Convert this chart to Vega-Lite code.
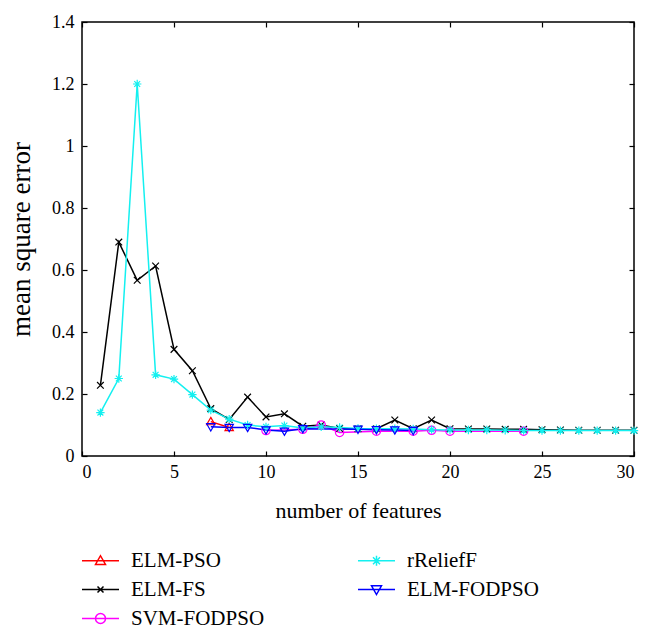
{
  "$schema": "https://vega.github.io/schema/vega-lite/v6.json",
  "width": 552,
  "height": 434,
  "autosize": {"type": "none"},
  "padding": {"left": 82, "top": 22, "right": 23, "bottom": 178},
  "background": "white",
  "config": {
    "font": "Liberation Serif",
    "view": {"stroke": "black", "strokeWidth": 1.5},
    "axis": {
      "labelFont": "Liberation Serif",
      "labelFontSize": 18,
      "labelColor": "black",
      "titleFont": "Liberation Serif",
      "titleFontSize": 22,
      "titleFontWeight": "normal",
      "titleColor": "black",
      "grid": false,
      "domain": false,
      "tickColor": "black",
      "tickSize": -5,
      "tickWidth": 1.2
    },
    "legend": {
      "labelFont": "Liberation Serif",
      "labelFontSize": 21,
      "labelColor": "black",
      "symbolStrokeWidth": 1.5,
      "padding": 0
    }
  },
  "data": {
    "values": [
      {"m": "ELM-PSO", "x": 7, "y": 0.111},
      {"m": "ELM-PSO", "x": 8, "y": 0.092},
      {"m": "ELM-FS", "x": 1, "y": 0.228},
      {"m": "ELM-FS", "x": 2, "y": 0.69},
      {"m": "ELM-FS", "x": 3, "y": 0.567},
      {"m": "ELM-FS", "x": 4, "y": 0.613},
      {"m": "ELM-FS", "x": 5, "y": 0.344},
      {"m": "ELM-FS", "x": 6, "y": 0.275},
      {"m": "ELM-FS", "x": 7, "y": 0.153},
      {"m": "ELM-FS", "x": 8, "y": 0.118},
      {"m": "ELM-FS", "x": 9, "y": 0.19},
      {"m": "ELM-FS", "x": 10, "y": 0.126},
      {"m": "ELM-FS", "x": 11, "y": 0.136},
      {"m": "ELM-FS", "x": 12, "y": 0.096},
      {"m": "ELM-FS", "x": 13, "y": 0.1},
      {"m": "ELM-FS", "x": 14, "y": 0.089},
      {"m": "ELM-FS", "x": 15, "y": 0.088},
      {"m": "ELM-FS", "x": 16, "y": 0.088},
      {"m": "ELM-FS", "x": 17, "y": 0.116},
      {"m": "ELM-FS", "x": 18, "y": 0.088},
      {"m": "ELM-FS", "x": 19, "y": 0.116},
      {"m": "ELM-FS", "x": 20, "y": 0.088},
      {"m": "ELM-FS", "x": 21, "y": 0.087},
      {"m": "ELM-FS", "x": 22, "y": 0.087},
      {"m": "ELM-FS", "x": 23, "y": 0.086},
      {"m": "ELM-FS", "x": 24, "y": 0.086},
      {"m": "ELM-FS", "x": 25, "y": 0.085},
      {"m": "ELM-FS", "x": 26, "y": 0.084},
      {"m": "ELM-FS", "x": 27, "y": 0.083},
      {"m": "ELM-FS", "x": 28, "y": 0.083},
      {"m": "ELM-FS", "x": 29, "y": 0.083},
      {"m": "ELM-FS", "x": 30, "y": 0.083},
      {"m": "SVM-FODPSO", "x": 10, "y": 0.082},
      {"m": "SVM-FODPSO", "x": 12, "y": 0.086},
      {"m": "SVM-FODPSO", "x": 13, "y": 0.1},
      {"m": "SVM-FODPSO", "x": 14, "y": 0.076},
      {"m": "SVM-FODPSO", "x": 16, "y": 0.08},
      {"m": "SVM-FODPSO", "x": 18, "y": 0.08},
      {"m": "SVM-FODPSO", "x": 19, "y": 0.083},
      {"m": "SVM-FODPSO", "x": 20, "y": 0.08},
      {"m": "SVM-FODPSO", "x": 24, "y": 0.08},
      {"m": "rReliefF", "x": 1, "y": 0.14},
      {"m": "rReliefF", "x": 2, "y": 0.25},
      {"m": "rReliefF", "x": 3, "y": 1.2},
      {"m": "rReliefF", "x": 4, "y": 0.262},
      {"m": "rReliefF", "x": 5, "y": 0.248},
      {"m": "rReliefF", "x": 6, "y": 0.198},
      {"m": "rReliefF", "x": 7, "y": 0.148},
      {"m": "rReliefF", "x": 8, "y": 0.119},
      {"m": "rReliefF", "x": 9, "y": 0.1},
      {"m": "rReliefF", "x": 10, "y": 0.094},
      {"m": "rReliefF", "x": 11, "y": 0.098},
      {"m": "rReliefF", "x": 12, "y": 0.09},
      {"m": "rReliefF", "x": 13, "y": 0.094},
      {"m": "rReliefF", "x": 14, "y": 0.092},
      {"m": "rReliefF", "x": 15, "y": 0.089},
      {"m": "rReliefF", "x": 16, "y": 0.088},
      {"m": "rReliefF", "x": 17, "y": 0.088},
      {"m": "rReliefF", "x": 18, "y": 0.087},
      {"m": "rReliefF", "x": 19, "y": 0.085},
      {"m": "rReliefF", "x": 20, "y": 0.084},
      {"m": "rReliefF", "x": 21, "y": 0.084},
      {"m": "rReliefF", "x": 22, "y": 0.084},
      {"m": "rReliefF", "x": 23, "y": 0.083},
      {"m": "rReliefF", "x": 24, "y": 0.082},
      {"m": "rReliefF", "x": 25, "y": 0.082},
      {"m": "rReliefF", "x": 26, "y": 0.082},
      {"m": "rReliefF", "x": 27, "y": 0.082},
      {"m": "rReliefF", "x": 28, "y": 0.082},
      {"m": "rReliefF", "x": 29, "y": 0.082},
      {"m": "rReliefF", "x": 30, "y": 0.082},
      {"m": "ELM-FODPSO", "x": 7, "y": 0.094},
      {"m": "ELM-FODPSO", "x": 8, "y": 0.092},
      {"m": "ELM-FODPSO", "x": 9, "y": 0.092},
      {"m": "ELM-FODPSO", "x": 10, "y": 0.084},
      {"m": "ELM-FODPSO", "x": 11, "y": 0.08},
      {"m": "ELM-FODPSO", "x": 12, "y": 0.088},
      {"m": "ELM-FODPSO", "x": 15, "y": 0.086},
      {"m": "ELM-FODPSO", "x": 16, "y": 0.085},
      {"m": "ELM-FODPSO", "x": 17, "y": 0.084},
      {"m": "ELM-FODPSO", "x": 18, "y": 0.082}
    ]
  },
  "layer": [
    {
      "mark": {"type": "line", "strokeWidth": 1.5},
      "encoding": {
        "x": {
          "field": "x", "type": "quantitative",
          "scale": {"domain": [0, 30], "nice": false},
          "axis": {"orient": "bottom", "values": [0, 5, 10, 15, 20, 25, 30], "title": "number of features", "labelPadding": 12, "titlePadding": 19}
        },
        "y": {
          "field": "y", "type": "quantitative",
          "scale": {"domain": [0, 1.4], "nice": false},
          "axis": {"orient": "left", "values": [0, 0.2, 0.4, 0.6, 0.8, 1, 1.2, 1.4], "format": ".1~f", "title": "mean square error", "labelPadding": 13, "titlePadding": 16, "titleFontSize": 27}
        },
        "color": {
          "field": "m", "type": "nominal",
          "scale": {"domain": ["ELM-PSO", "ELM-FS", "SVM-FODPSO", "rReliefF", "ELM-FODPSO"], "range": ["#ff0000", "#000000", "#ff00ff", "#14f0f0", "#0000ff"]},
          "legend": null
        }
      }
    },
    {
      "mark": {"type": "point", "filled": false, "size": 70, "strokeWidth": 1.2, "opacity": 1},
      "encoding": {
        "x": {"field": "x", "type": "quantitative", "axis": null},
        "y": {"field": "y", "type": "quantitative", "axis": null},
        "color": {
          "field": "m", "type": "nominal",
          "scale": {"domain": ["ELM-PSO", "ELM-FS", "SVM-FODPSO", "rReliefF", "ELM-FODPSO"], "range": ["#ff0000", "#000000", "#ff00ff", "#14f0f0", "#0000ff"]},
          "legend": null
        },
        "shape": {
          "field": "m", "type": "nominal",
          "scale": {
            "domain": ["ELM-PSO", "ELM-FS", "SVM-FODPSO", "rReliefF", "ELM-FODPSO"],
            "range": [
              "M0,-1L1,0.75L-1,0.75Z",
              "M-0.8,-0.8L0.8,0.8M-0.8,0.8L0.8,-0.8",
              "circle",
              "M-1,0L1,0M0,-1L0,1M-0.7,-0.7L0.7,0.7M-0.7,0.7L0.7,-0.7",
              "M0,1L1,-0.75L-1,-0.75Z"
            ]
          },
          "legend": null
        }
      }
    },
    {
      "transform": [{"filter": "datum.x < 0"}],
      "mark": {"type": "point", "filled": false, "size": 100, "strokeWidth": 1.5, "opacity": 1},
      "encoding": {
        "x": {"field": "x", "type": "quantitative", "axis": {"orient": "top", "values": [0, 5, 10, 15, 20, 25, 30], "labels": false, "title": null}},
        "y": {"field": "y", "type": "quantitative", "axis": {"orient": "right", "values": [0, 0.2, 0.4, 0.6, 0.8, 1, 1.2, 1.4], "labels": false, "title": null}},
        "stroke": {
          "field": "m", "type": "nominal",
          "scale": {"domain": ["ELM-PSO", "ELM-FS", "SVM-FODPSO", "rReliefF", "ELM-FODPSO"], "range": ["#ff0000", "#000000", "#ff00ff", "#14f0f0", "#0000ff"]},
          "legend": {"orient": "none", "legendX": 8, "legendY": 528, "title": null, "columns": 2, "columnPadding": 90, "rowPadding": 7, "labelOffset": 20, "symbolSize": 100}
        },
        "shape": {
          "field": "m", "type": "nominal",
          "scale": {
            "domain": ["ELM-PSO", "ELM-FS", "SVM-FODPSO", "rReliefF", "ELM-FODPSO"],
            "range": [
              "M-3.7,0L3.7,0M0,-1L1,0.75L-1,0.75Z",
              "M-3.7,0L3.7,0M-0.6,-0.6L0.6,0.6M-0.6,0.6L0.6,-0.6",
              "M-3.7,0L3.7,0M1,0A1,1 0 1,1 -1,0A1,1 0 1,1 1,0",
              "M-3.7,0L3.7,0M-1,0L1,0M0,-1L0,1M-0.7,-0.7L0.7,0.7M-0.7,0.7L0.7,-0.7",
              "M-3.7,0L3.7,0M0,1L1,-0.75L-1,-0.75Z"
            ]
          },
          "legend": {"orient": "none", "legendX": 8, "legendY": 528, "title": null, "columns": 2, "columnPadding": 90, "rowPadding": 7, "labelOffset": 20, "symbolSize": 100}
        }
      }
    }
  ],
  "resolve": {
    "scale": {"shape": "independent", "stroke": "independent"},
    "axis": {"x": "independent", "y": "independent"}
  }
}
